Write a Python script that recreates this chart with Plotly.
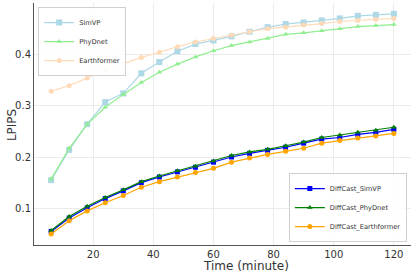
import plotly.graph_objects as go

time_min = [6, 12, 18, 24, 30, 36, 42, 48, 54, 60, 66, 72, 78, 84, 90, 96, 102, 108, 114, 120]

simvp = [0.155, 0.214, 0.264, 0.307, 0.324, 0.363, 0.385, 0.406, 0.420, 0.427,
         0.435, 0.444, 0.453, 0.459, 0.462, 0.466, 0.470, 0.475, 0.477, 0.479]
phydnet = [0.157, 0.217, 0.264, 0.297, 0.322, 0.345, 0.365, 0.381, 0.395, 0.407,
           0.417, 0.424, 0.431, 0.439, 0.442, 0.446, 0.450, 0.454, 0.456, 0.458]
earthformer = [0.328, 0.339, 0.354, 0.369, 0.382, 0.394, 0.404, 0.415, 0.424, 0.431,
               0.437, 0.444, 0.450, 0.453, 0.457, 0.460, 0.464, 0.466, 0.468, 0.470]

dc_simvp = [0.055, 0.081, 0.101, 0.119, 0.134, 0.150, 0.161, 0.171, 0.180, 0.190,
            0.200, 0.207, 0.213, 0.219, 0.227, 0.235, 0.238, 0.244, 0.248, 0.254]
dc_phydnet = [0.057, 0.084, 0.104, 0.121, 0.136, 0.152, 0.163, 0.173, 0.182, 0.192,
              0.203, 0.210, 0.215, 0.222, 0.229, 0.238, 0.243, 0.248, 0.252, 0.258]
dc_earthformer = [0.050, 0.076, 0.095, 0.111, 0.125, 0.141, 0.152, 0.161, 0.170, 0.178,
                  0.190, 0.198, 0.205, 0.211, 0.217, 0.227, 0.232, 0.237, 0.241, 0.246]

x_ticks = [20, 40, 60, 80, 100, 120]
y_ticks = [0.1, 0.2, 0.3, 0.4]

FONT = "DejaVu Sans"

fig = go.Figure()

def add(name, y, color, symbol, size, legend):
    fig.add_trace(go.Scatter(
        x=time_min, y=y, name=name, mode="lines+markers",
        line=dict(color=color, width=1.2),
        marker=dict(color=color, symbol=symbol, size=size, line=dict(width=0)),
        legend=legend,
    ))

add("SimVP", simvp, "#add8e6", "square", 6, "legend")
add("PhyDnet", phydnet, "#90ee90", "triangle-up", 5, "legend")
add("Earthformer", earthformer, "#ffdab9", "circle", 5, "legend")
add("DiffCast_SimVP", dc_simvp, "#0000ff", "square", 5, "legend2")
add("DiffCast_PhyDnet", dc_phydnet, "#008000", "triangle-up", 5, "legend2")
add("DiffCast_Earthformer", dc_earthformer, "#ffa500", "circle", 5, "legend2")

legend_style = dict(
    bgcolor="rgba(255,255,255,0.9)", bordercolor="#d0d0d0", borderwidth=1,
    font=dict(family=FONT, size=6.7, color="#333333"),
    itemwidth=30,
)

fig.update_layout(
    width=415, height=277,
    margin=dict(l=34, r=4, t=3, b=32),
    paper_bgcolor="white", plot_bgcolor="white",
    font=dict(family=FONT, color="#333333"),
    legend=dict(x=0.011, y=0.983, xanchor="left", yanchor="top", **legend_style),
    legend2=dict(x=0.989, y=0.012, xanchor="right", yanchor="bottom", **legend_style),
    xaxis=dict(
        range=[0.3, 125.7], tickvals=x_ticks,
        showline=True, linecolor="#555555", linewidth=1,
        showgrid=True, gridcolor="#ebebeb", gridwidth=1,
        zeroline=False, ticks="outside", ticklen=0,
        tickfont=dict(family=FONT, size=10, color="#333333"),
    ),
    yaxis=dict(
        range=[0.0286, 0.5], tickvals=y_ticks, tickformat=".1f",
        showline=True, linecolor="#555555", linewidth=1,
        showgrid=True, gridcolor="#ebebeb", gridwidth=1,
        zeroline=False, ticks="outside", ticklen=0,
        tickfont=dict(family=FONT, size=10, color="#333333"),
    ),
    annotations=[
        dict(text="Time (minute)", xref="paper", yref="paper", x=0.562, y=-0.087,
             xanchor="center", yanchor="middle", showarrow=False,
             font=dict(family=FONT, size=12, color="#333333")),
        dict(text="LPIPS", xref="paper", yref="paper", x=-0.058, y=0.496,
             xanchor="center", yanchor="middle", showarrow=False, textangle=-90,
             font=dict(family=FONT, size=12, color="#333333")),
    ],
)

fig.write_html(
    "out.html",
    config={"displayModeBar": False},
    post_script="document.body.style.margin='0';window.dispatchEvent(new Event('resize'));",
)
